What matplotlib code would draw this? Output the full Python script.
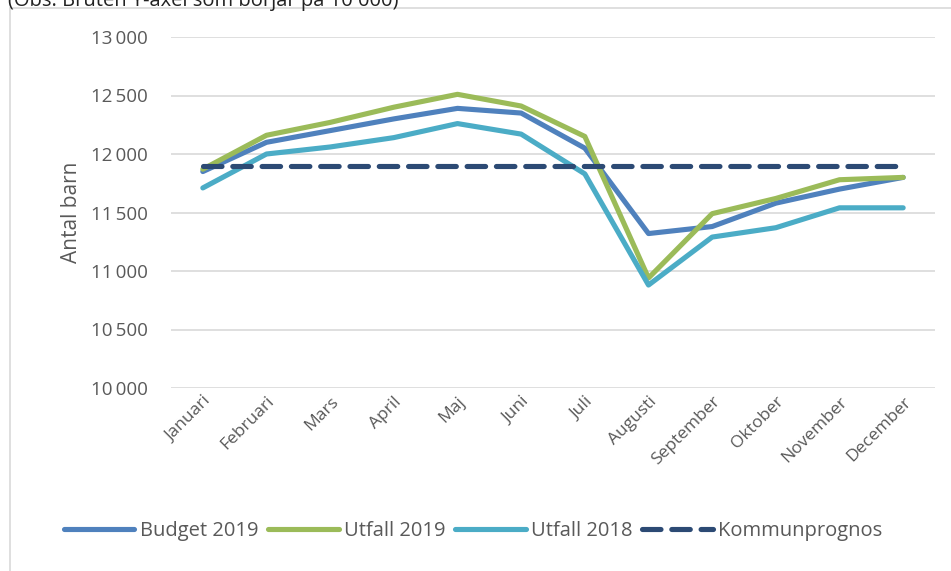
import matplotlib.pyplot as plt
from matplotlib.patches import Rectangle
from matplotlib.ticker import FuncFormatter, MultipleLocator

months = ['Januari', 'Februari', 'Mars', 'April', 'Maj', 'Juni', 'Juli',
          'Augusti', 'September', 'Oktober', 'November', 'December']
budget_2019 = [11850, 12100, 12200, 12300, 12390, 12350, 12050, 11320, 11380, 11580, 11700, 11800]
utfall_2019 = [11870, 12160, 12270, 12400, 12510, 12410, 12150, 10940, 11490, 11620, 11780, 11800]
utfall_2018 = [11710, 12000, 12060, 12140, 12260, 12170, 11830, 10880, 11290, 11370, 11540, 11540]
kommunprognos = [11900] * 12

plt.rcParams['font.family'] = ['Open Sans', 'DejaVu Sans']
text_col = '#595959'

fig = plt.figure(figsize=(9.51, 5.71), dpi=100)
# chart frame
fig.patches.append(Rectangle((10 / 951, -0.05), 1.0, 1 - 8 / 571 + 0.05,
                             transform=fig.transFigure, fill=False,
                             edgecolor='#d9d9d9', linewidth=1.2))
fig.text(8 / 951, 1.0, '(Obs. Bruten Y-axel som börjar på 10 000)',
         fontsize=14.5, color='#222222', va='center', ha='left')

ax = fig.add_axes([171 / 951, 1 - 388 / 571, (935 - 171) / 951, (388 - 37) / 571])
x = list(range(len(months)))
lw = 3.7
ax.plot(x, budget_2019, color='#4F81BD', lw=lw, label='Budget 2019', solid_capstyle='round')
ax.plot(x, utfall_2019, color='#9BBB59', lw=lw, label='Utfall 2019', solid_capstyle='round')
ax.plot(x, utfall_2018, color='#4BACC6', lw=lw, label='Utfall 2018', solid_capstyle='round')
ax.plot(x, kommunprognos, color='#2C4A74', lw=lw, label='Kommunprognos',
        dashes=(3.6, 2.1), dash_capstyle='round')

ax.set_xlim(-0.5, 11.5)
ax.set_ylim(10000, 13000)
ax.yaxis.set_major_locator(MultipleLocator(500))
ax.yaxis.set_major_formatter(FuncFormatter(lambda v, p: '{:,.0f}'.format(v).replace(',', '\u2009')))
ax.grid(axis='y', color='#d9d9d9', lw=1.2)
ax.set_axisbelow(True)
for s in ax.spines.values():
    s.set_visible(False)
ax.tick_params(length=0, colors=text_col, labelsize=13.5)
ax.tick_params(axis='y', pad=17)
ax.tick_params(axis='x', labelsize=12.5, pad=4)
ax.set_xticks(x)
ax.set_xticklabels(months, rotation=45, ha='right', rotation_mode='anchor')
ax.set_ylabel('Antal barn', fontsize=15, color=text_col, labelpad=6)

ax.legend(loc='center', bbox_to_anchor=(473 / 951, 1 - 531 / 571), bbox_transform=fig.transFigure,
          ncol=4, frameon=False, fontsize=14.5, handlelength=3.5, handletextpad=0.25,
          columnspacing=0.5, labelcolor=text_col)

fig.savefig('out.png', dpi=100)
